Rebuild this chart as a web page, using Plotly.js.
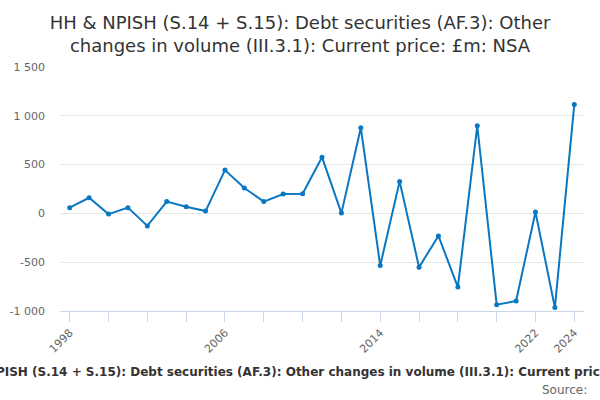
<!DOCTYPE html>
<html>
<head>
<meta charset="utf-8">
<script src="https://cdn.plot.ly/plotly-3.0.1.min.js"></script>
<style>html,body{margin:0;padding:0;background:#fff}#chart{width:600px;height:400px}</style>
</head>
<body>
<div id="chart"></div>
<script>
var years = [1998,1999,2000,2001,2002,2003,2004,2005,2006,2007,2008,2009,2010,2011,2012,2013,2014,2015,2016,2017,2018,2019,2020,2021,2022,2023,2024];
var values = [59,160,-7,59,-128,121,69,24,444,260,121,198,201,576,3,878,-535,328,-551,-231,-755,898,-935,-898,14,-965,1116];
var yTickVals = [-1000,-500,0,500,1000,1500];
var yTickText = ["-1 000","-500","0","500","1 000","1 500"];
var xTickVals = [1998,2000,2002,2004,2006,2008,2010,2012,2014,2016,2018,2020,2022,2024];
var xTickText = ["1998","","","","2006","","","","2014","","","","2022","2024"];
var titleText = "HH & NPISH (S.14 + S.15): Debt securities (AF.3): Other<br>changes in volume (III.3.1): Current price: £m: NSA";
var axisTitle = "HH & NPISH (S.14 + S.15): Debt securities (AF.3): Other changes in volume (III.3.1): Current price: £m: NSA";

var trace = {
  x: years, y: values, type: 'scatter', mode: 'lines+markers',
  line: {color: '#0a77c2', width: 2},
  marker: {color: '#0a77c2', size: 5},
  hoverinfo: 'x+y'
};
var layout = {
  width: 600, height: 400,
  margin: {l: 60, r: 16, t: 67, b: 89},
  paper_bgcolor: '#fff', plot_bgcolor: '#fff',
  font: {family: 'DejaVu Sans, sans-serif', color: '#666', size: 11},
  showlegend: false,
  title: {text: titleText, font: {size: 18, color: '#333'}, x: 0.5, xanchor: 'center', xref: 'container', yref: 'container', y: 1 - 29/400, yanchor: 'middle'},
  xaxis: {
    range: [1997.5, 2024.5], tickvals: xTickVals, ticktext: xTickText,
    tickangle: -45, ticks: 'outside', ticklen: 10, tickcolor: '#ccd6eb', tickwidth: 1,
    showline: true, linecolor: '#ccd6eb', linewidth: 1, showgrid: false, zeroline: false,
    tickfont: {size: 11, color: '#666'}
  },
  yaxis: {
    range: [-1000, 1500], tickvals: yTickVals, ticktext: yTickText,
    showgrid: true, gridcolor: '#e6e6e6', gridwidth: 1, zeroline: false, showline: false,
    ticks: '', ticklabelstandoff: 14, tickfont: {size: 11, color: '#666'}
  },
  annotations: [
    {text: '<b>' + axisTitle + '</b>', xref: 'paper', yref: 'paper', x: (311 - 60) / 524, y: (311 - 372) / 244, xanchor: 'center', yanchor: 'middle', showarrow: false, font: {size: 12, color: '#333'}},
    {text: 'Source:', xref: 'paper', yref: 'paper', x: (589 - 60) / 524, y: (311 - 390) / 244, xanchor: 'right', yanchor: 'middle', showarrow: false, font: {size: 12, color: '#666'}}
  ]
};
Plotly.newPlot('chart', [trace], layout, {displayModeBar: false, staticPlot: true});
</script>
</body>
</html>
